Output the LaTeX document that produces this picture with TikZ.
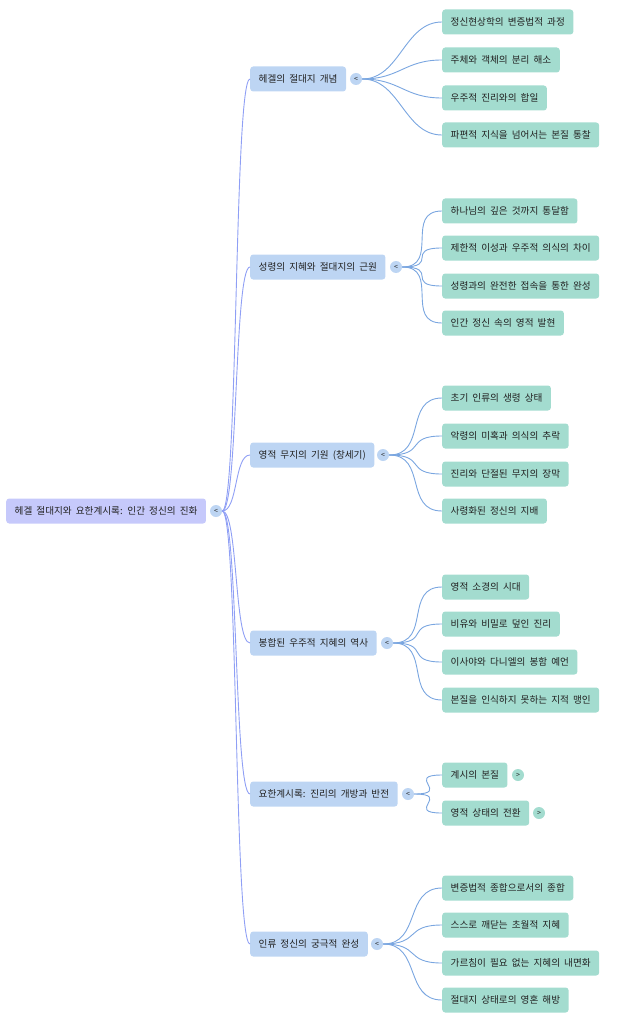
\documentclass[tikz,border=0pt]{standalone}
\usepackage{fontspec}
\setmainfont{Noto Sans CJK KR}[WordSpace=1.9]
\usepackage{tikz}
\usetikzlibrary{positioning}
\definecolor{rootfill}{HTML}{C6C9FB}
\definecolor{topicfill}{HTML}{BDD5F3}
\definecolor{leaffill}{HTML}{A3DCCF}
\definecolor{rootline}{HTML}{8F9FF5}
\definecolor{leafline}{HTML}{7AA6E0}
\definecolor{ink}{HTML}{222222}

\begin{document}
\begin{tikzpicture}[x=1pt, y=-1pt,
  box/.style={rounded corners=3pt, minimum height=25pt, inner xsep=8.5pt, anchor=west,
    text=ink, font=\fontsize{9.6}{11}\selectfont},
  rootbox/.style={box, fill=rootfill},
  topic/.style={box, fill=topicfill},
  leaf/.style={box, fill=leaffill},
  fold/.style={circle, fill=topicfill, minimum size=12pt, inner sep=0pt, text=ink,
    font=\fontsize{7}{7}\selectfont},
  unfold/.style={fold, fill=leaffill},
  trunk/.style={draw=rootline, line width=0.9pt},
  twig/.style={draw=leafline, line width=0.9pt}]
  \useasboundingbox (0,0) rectangle (621,1024);

  % root
  \node[rootbox] (root) at (6,511) {헤겔 절대지와 요한계시록: 인간 정신의 진화};
  \node[fold] (rootc) at (216,511) {<};

  % main topics
  \node[topic] (hegel) at (250,79) {헤겔의 절대지 개념};
  \node[fold] (hegelc) at (356,79) {<};
  \node[topic] (spirit) at (250,267) {성령의 지혜와 절대지의 근원};
  \node[fold] (spiritc) at (396,267) {<};
  \node[topic] (origin) at (250,455) {영적 무지의 기원 (창세기)};
  \node[fold] (originc) at (383,455) {<};
  \node[topic] (sealed) at (250,643) {봉합된 우주적 지혜의 역사};
  \node[fold] (sealedc) at (387,643) {<};
  \node[topic] (revel) at (250,794) {요한계시록: 진리의 개방과 반전};
  \node[fold] (revelc) at (408,794) {<};
  \node[topic] (final) at (250,944) {인류 정신의 궁극적 완성};
  \node[fold] (finalc) at (377,944) {<};

  % leaves
  \node[leaf] (h1) at (442,22) {정신현상학의 변증법적 과정};
  \node[leaf] (h2) at (442,60) {주체와 객체의 분리 해소};
  \node[leaf] (h3) at (442,98) {우주적 진리와의 합일};
  \node[leaf] (h4) at (442,135) {파편적 지식을 넘어서는 본질 통찰};

  \node[leaf] (s1) at (442,211) {하나님의 깊은 것까지 통달함};
  \node[leaf] (s2) at (442,248) {제한적 이성과 우주적 의식의 차이};
  \node[leaf] (s3) at (442,286) {성령과의 완전한 접속을 통한 완성};
  \node[leaf] (s4) at (442,323) {인간 정신 속의 영적 발현};

  \node[leaf] (o1) at (442,398) {초기 인류의 생령 상태};
  \node[leaf] (o2) at (442,436) {악령의 미혹과 의식의 추락};
  \node[leaf] (o3) at (442,474) {진리와 단절된 무지의 장막};
  \node[leaf] (o4) at (442,511) {사령화된 정신의 지배};

  \node[leaf] (w1) at (442,587) {영적 소경의 시대};
  \node[leaf] (w2) at (442,624) {비유와 비밀로 덮인 진리};
  \node[leaf] (w3) at (442,662) {이사야와 다니엘의 봉함 예언};
  \node[leaf] (w4) at (442,700) {본질을 인식하지 못하는 지적 맹인};

  \node[leaf] (r1) at (442,775) {계시의 본질};
  \node[unfold] (r1c) at (518,775) {>};
  \node[leaf] (r2) at (442,813) {영적 상태의 전환};
  \node[unfold] (r2c) at (539,813) {>};

  \node[leaf] (f1) at (442,888) {변증법적 종합으로서의 종합};
  \node[leaf] (f2) at (442,925) {스스로 깨닫는 초월적 지혜};
  \node[leaf] (f3) at (442,963) {가르침이 필요 없는 지혜의 내면화};
  \node[leaf] (f4) at (442,1000) {절대지 상태로의 영혼 해방};

  % connectors
  \foreach \t in {hegel,spirit,origin,sealed,revel,final}
    \draw[trunk] (rootc.east) .. controls +(16,0) and +(-16,0) .. (\t.west);
  \foreach \p/\kids in {hegel/{h1,h2,h3,h4}, spirit/{s1,s2,s3,s4}, origin/{o1,o2,o3,o4},
      sealed/{w1,w2,w3,w4}, revel/{r1,r2}, final/{f1,f2,f3,f4}}
    \foreach \k in \kids
      \draw[twig] (\p c.east) .. controls +(38,0) and +(-38,0) .. (\k.west);
\end{tikzpicture}
\end{document}
